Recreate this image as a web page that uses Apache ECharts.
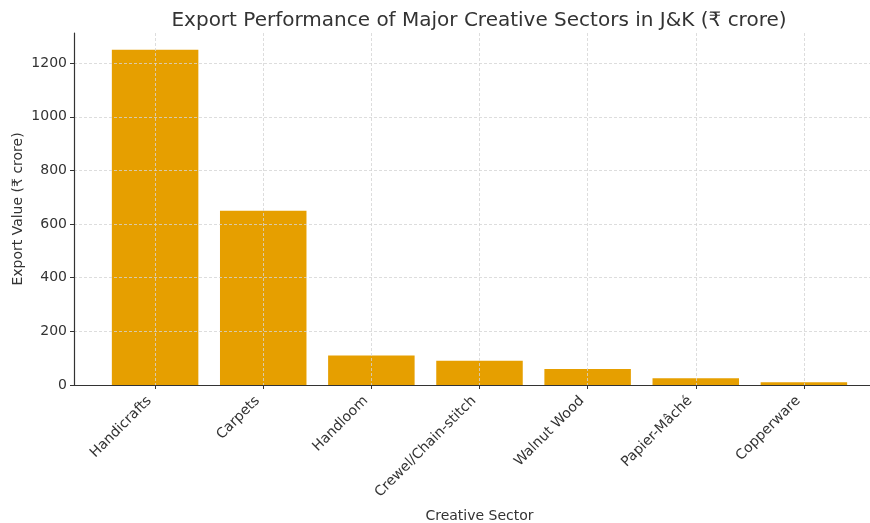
<!DOCTYPE html>
<html>
<head>
<meta charset="utf-8">
<script src="https://cdn.jsdelivr.net/npm/echarts@6/dist/echarts.min.js"></script>
<style>
  html, body { margin: 0; padding: 0; background: #fff; }
  #chart { width: 870px; height: 523px; }
</style>
</head>
<body>
<div id="chart"></div>
<script>
// datos
const sectores = ['Handicrafts', 'Carpets', 'Handloom', 'Crewel/Chain-stitch', 'Walnut Wood', 'Papier-Mâché', 'Copperware']
const exportaciones = [1250, 650, 110, 90, 60, 25, 10]
const ticksY = [0, 200, 400, 600, 800, 1000, 1200]

const posiciones = sectores.map((s, i) => i)
const fuente = 'DejaVu Sans'

let myChart = echarts.init(document.getElementById('chart'), null, { renderer: 'canvas' })

const option = {
    animation: false,
    textStyle: { fontFamily: fuente },
    title: {
        text: 'Export Performance of Major Creative Sectors in J&K (₹ crore)',
        left: 474,
        textAlign: 'center',
        top: 6,
        textStyle: { fontFamily: fuente, fontSize: 20, fontWeight: 'normal', color: '#333' },
    },
    grid: { left: 74, width: 811, top: 33, bottom: 138, outerBoundsMode: 'none', containLabel: false },
    xAxis: {
        type: 'value',
        min: -0.75,
        max: 6.75,
        name: 'Creative Sector',
        nameLocation: 'middle',
        nameGap: 124,
        nameTextStyle: { fontFamily: fuente, fontSize: 14, color: '#333' },
        axisLine: { show: true, onZero: false, lineStyle: { color: '#333', width: 1.2 } },
        axisTick: { show: true, length: 4, customValues: posiciones, lineStyle: { color: '#333' } },
        axisLabel: {
            customValues: posiciones,
            rotate: 45,
            margin: 8,
            padding: [0, 8, 0, 0],
            fontSize: 14,
            color: '#333',
            formatter: v => sectores[Math.round(v)] || '',
        },
        splitLine: { show: true, customValues: posiciones, lineStyle: { color: '#d4d4d4', type: [3, 2], width: 0.8 } },
    },
    yAxis: {
        type: 'value',
        min: 0,
        max: 1312.5,
        interval: 200,
        name: 'Export Value (₹ crore)',
        nameLocation: 'middle',
        nameGap: 49,
        nameMoveOverlap: false,
        nameTextStyle: { fontFamily: fuente, fontSize: 14, color: '#333' },
        axisLine: { show: true, onZero: false, lineStyle: { color: '#333', width: 1.2 } },
        axisTick: { show: true, length: 4, customValues: ticksY, lineStyle: { color: '#333' } },
        axisLabel: { customValues: ticksY, fontSize: 14, color: '#333', margin: 7, formatter: v => String(v) },
        splitLine: { show: true, customValues: ticksY, lineStyle: { color: '#d4d4d4', type: [3, 2], width: 0.8 } },
    },
    series: [
        {
            type: 'bar',
            z: -1,
            barWidth: 86.5,
            itemStyle: { color: '#E69F00' },
            data: sectores.map((s, i) => [i, exportaciones[i]]),
        },
    ],
}

myChart.setOption(option)
</script>
</body>
</html>
